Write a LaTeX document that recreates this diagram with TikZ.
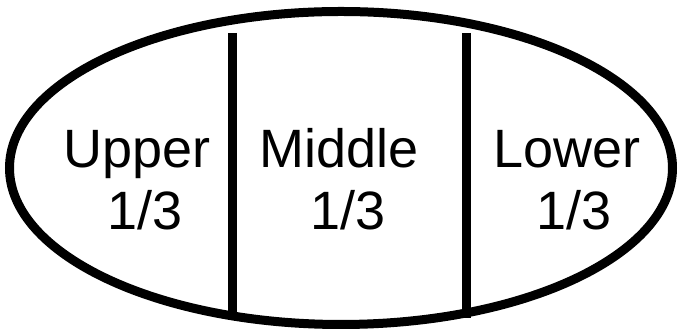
\documentclass[tikz,border=0pt]{standalone}
\usepackage{fontspec}
\setmainfont{Liberation Sans}
\begin{document}
\begin{tikzpicture}[x=1pt,y=1pt,
  lbl/.style={anchor=base,inner sep=0pt,font=\fontsize{54}{60}\selectfont},
  thick line/.style={line width=9pt,black}]
\useasboundingbox (0,0) rectangle (681,336);
\draw[thick line] (341,168) ellipse [x radius=331.5, y radius=156.5];
\coordinate (l1t) at (232,303);
\coordinate (l1b) at (232,18);
\coordinate (l2t) at (466,303);
\coordinate (l2b) at (466,18);
\draw[thick line] (l1t) -- (l1b);
\draw[thick line] (l2t) -- (l2b);
\node[lbl] (up) at (137,168) {Upper};
\node[lbl] (upf) at (145,106) {1/3};
\node[lbl] (mid) at (339,168) {Middle};
\node[lbl] (midf) at (348,106) {1/3};
\node[lbl] (low) at (567,168) {Lower};
\node[lbl] (lowf) at (574,106) {1/3};
\end{tikzpicture}
\end{document}
